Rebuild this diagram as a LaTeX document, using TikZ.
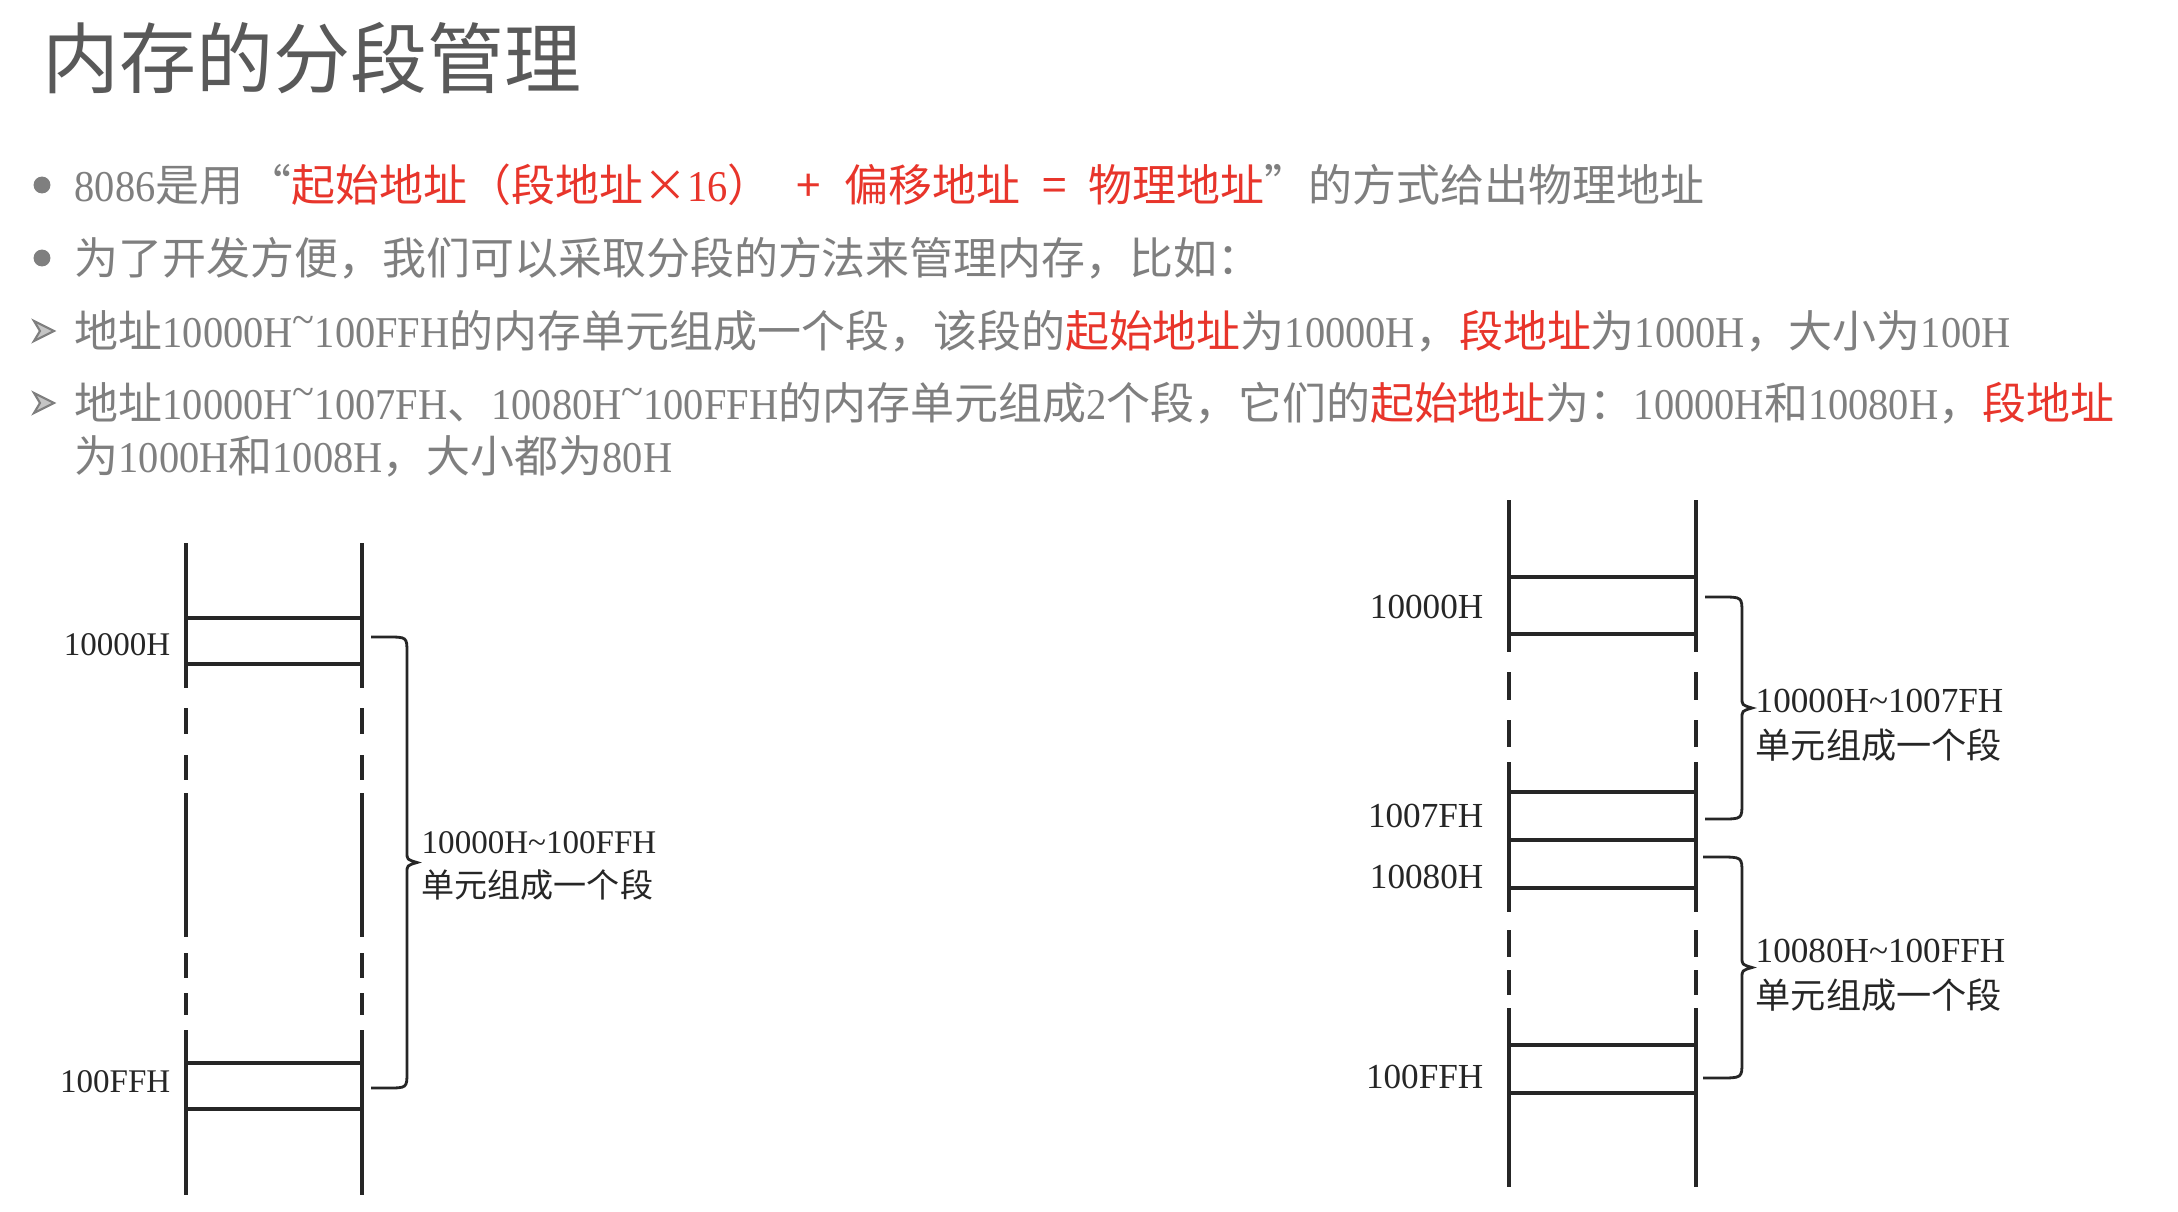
\documentclass[tikz,border=0pt]{standalone}
\usepackage{fontspec}
\setmainfont{Noto Sans CJK SC}
\newfontfamily\cjkfont{Noto Sans CJK SC}
\newfontfamily\figfont{Liberation Serif}
\definecolor{titlegray}{HTML}{595959}
\definecolor{bodygray}{HTML}{7F7F7F}
\definecolor{keyred}{HTML}{E8352B}
\definecolor{inkgray}{HTML}{262626}
\newcommand{\keyword}[1]{\textcolor{keyred}{#1}}
\newcommand{\uptilde}{\raisebox{.3em}{\textasciitilde}}
\newcommand{\hexnum}[1]{{\figfont\scalebox{0.92}[1]{#1}}}
% brace: #1 start x, #2 stem x, #3 tip x, #4 top y, #5 bottom y
\newcommand{\segbrace}[5]{%
  \draw[bracepen] (#1,#4) -- ({#1+16},#4) .. controls (#2,#4) .. (#2,{#4+16})
    -- (#2,{(#4+#5)/2-10}) .. controls (#2,{(#4+#5)/2-3}) .. (#3,{(#4+#5)/2})
    .. controls (#2,{(#4+#5)/2+3}) .. (#2,{(#4+#5)/2+10})
    -- (#2,{#5-16}) .. controls (#2,#5) .. ({#1+16},#5) -- (#1,#5);}

\begin{document}
\begin{tikzpicture}[x=0.01cm,y=-0.01cm,
  body/.style={anchor=west,inner sep=0pt,text=bodygray,font=\fontsize{12.5}{14}\selectfont},
  memline/.style={draw=inkgray,line width=0.9pt},
  bracepen/.style={draw=inkgray,line width=0.8pt},
  addrleft/.style={anchor=east,inner sep=0pt,text=inkgray,font=\figfont\fontsize{9.4}{12.5}\selectfont},
  addrright/.style={anchor=east,inner sep=0pt,text=inkgray,font=\figfont\fontsize{10}{13.1}\selectfont},
  segnote/.style={anchor=west,inner sep=0pt,align=left,text=inkgray}]
\fill[white] (0,0) rectangle (2178,1212);
\useasboundingbox (0,0) rectangle (2178,1212);

\node[anchor=west,inner sep=0pt,text=titlegray,font=\fontsize{21.9}{24}\selectfont] (title) at (42,58) {内存的分段管理};

\fill[bodygray] (42,185) circle (2.4pt);
\node[body] (line1) at (74,185) {\hexnum{8086}是用\hspace{.1em}“\keyword{起始地址（段地址×\hexnum{16}）\hspace{.55em}+\hspace{.55em}偏移地址\hspace{.5em}=\hspace{.5em}物理地址}”的方式给出物理地址};
\fill[bodygray] (42,258) circle (2.4pt);
\node[body] (line2) at (74,258) {为了开发方便，我们可以采取分段的方法来管理内存，比如：};
\filldraw[draw=bodygray,fill=bodygray!45,line width=0.6pt] (34,321) -- (54,331) -- (34,341) -- (40,331) -- cycle;
\node[body] (line3) at (74,331) {地址\hexnum{10000H\uptilde100FFH}的内存单元组成一个段，该段的\keyword{起始地址}为\hexnum{10000H}，\keyword{段地址}为\hexnum{1000H}，大小为\hexnum{100H}};
\filldraw[draw=bodygray,fill=bodygray!45,line width=0.6pt] (34,393) -- (54,403) -- (34,413) -- (40,403) -- cycle;
\node[body] (line4) at (74,403) {地址\hexnum{10000H\uptilde1007FH}、\hexnum{10080H\uptilde100FFH}的内存单元组成\hexnum{2}个段，它们的\keyword{起始地址}为：\hexnum{10000H}和\hexnum{10080H}，\keyword{段地址}};
\node[body] (line5) at (74,456) {为\hexnum{1000H}和\hexnum{1008H}，大小都为\hexnum{80H}};

% one segment of 100H units
\draw[memline] (186,543) -- (186,688) (186,708) -- (186,734) (186,755) -- (186,780)
  (186,793) -- (186,937) (186,953) -- (186,978) (186,993) -- (186,1015) (186,1030) -- (186,1195);
\draw[memline] (362,543) -- (362,688) (362,708) -- (362,734) (362,755) -- (362,780)
  (362,793) -- (362,937) (362,953) -- (362,978) (362,993) -- (362,1015) (362,1030) -- (362,1195);
\draw[memline] (186,618) -- (362,618) (186,664) -- (362,664);
\draw[memline] (186,1063) -- (362,1063) (186,1109) -- (362,1109);
\node[addrleft] (lfirst) at (171,645) {10000H};
\node[addrleft] (llast) at (171,1082) {100FFH};
\segbrace{371}{407}{417}{637}{1088}
\node[segnote,font=\figfont\fontsize{9.4}{12.5}\selectfont] (lnote) at (421,866) {10000H\textasciitilde100FFH\\{\cjkfont 单元组成一个段}};

% two segments of 80H units
\draw[memline] (1509,500) -- (1509,652) (1509,672) -- (1509,700) (1509,720) -- (1509,747)
  (1509,762) -- (1509,912) (1509,930) -- (1509,957) (1509,970) -- (1509,995) (1509,1008) -- (1509,1187);
\draw[memline] (1696,500) -- (1696,652) (1696,672) -- (1696,700) (1696,720) -- (1696,747)
  (1696,762) -- (1696,912) (1696,930) -- (1696,957) (1696,970) -- (1696,995) (1696,1008) -- (1696,1187);
\draw[memline] (1509,577) -- (1696,577) (1509,634) -- (1696,634);
\draw[memline] (1509,792) -- (1696,792) (1509,840) -- (1696,840) (1509,888) -- (1696,888);
\draw[memline] (1509,1045) -- (1696,1045) (1509,1093) -- (1696,1093);
\node[addrright] (rfirst) at (1484,607) {10000H};
\node[addrright] (rmidend) at (1484,816) {1007FH};
\node[addrright] (rmidstart) at (1484,877) {10080H};
\node[addrright] (rlast) at (1484,1077) {100FFH};
\segbrace{1705}{1742}{1752}{597}{819}
\segbrace{1703}{1742}{1752}{857}{1078}
\node[segnote,font=\figfont\fontsize{10}{13.1}\selectfont] (rnoteA) at (1755,725) {10000H\textasciitilde1007FH\\{\cjkfont 单元组成一个段}};
\node[segnote,font=\figfont\fontsize{10}{13.1}\selectfont] (rnoteB) at (1755,975) {10080H\textasciitilde100FFH\\{\cjkfont 单元组成一个段}};
\end{tikzpicture}
\end{document}
